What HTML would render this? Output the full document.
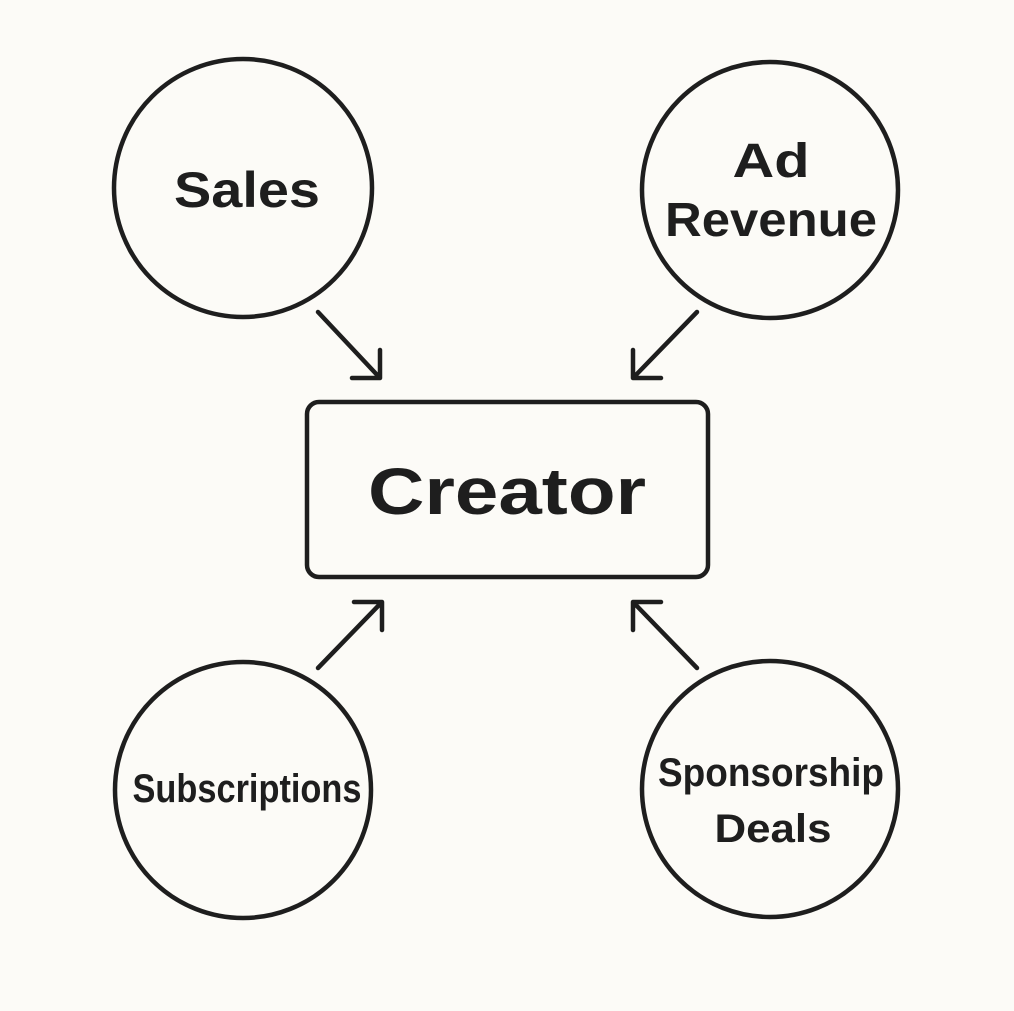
<!DOCTYPE html>
<html><head><meta charset="utf-8"><style>
html,body{margin:0;padding:0;background:#fcfbf7;}
svg{display:block}
text{font-family:"Liberation Sans",sans-serif;font-weight:bold;fill:#1e1e1e;text-anchor:middle}
</style></head><body>
<svg width="1014" height="1011" viewBox="0 0 1014 1011">
<rect width="1014" height="1011" fill="#fcfbf7"/>
<g fill="none" stroke="#1e1e1e" stroke-width="4.5" stroke-linecap="round" stroke-linejoin="round">
<circle cx="243" cy="188" r="129"/>
<circle cx="770" cy="190" r="128"/>
<circle cx="243" cy="790" r="128"/>
<circle cx="770" cy="789" r="128"/>
<rect x="307" y="402" width="401" height="175" rx="12"/>
<path d="M318 312 L380 378 M352 378 L380 378 L380 350"/>
<path d="M697 312 L633 378 M661 378 L633 378 L633 350"/>
<path d="M318 668 L382 602 M354 602 L382 602 L382 630"/>
<path d="M697 668 L633 602 M661 602 L633 602 L633 630"/>
</g>
<text x="247" y="207" font-size="50" textLength="146" lengthAdjust="spacingAndGlyphs">Sales</text>
<text x="771" y="177" font-size="48" textLength="77" lengthAdjust="spacingAndGlyphs">Ad</text>
<text x="771" y="236" font-size="48" textLength="212" lengthAdjust="spacingAndGlyphs">Revenue</text>
<text x="507" y="514" font-size="66" textLength="278" lengthAdjust="spacingAndGlyphs">Creator</text>
<text x="247" y="802" font-size="40" textLength="229" lengthAdjust="spacingAndGlyphs">Subscriptions</text>
<text x="771" y="786" font-size="40" textLength="226" lengthAdjust="spacingAndGlyphs">Sponsorship</text>
<text x="773" y="842" font-size="40" textLength="117" lengthAdjust="spacingAndGlyphs">Deals</text>
</svg>
</body></html>
